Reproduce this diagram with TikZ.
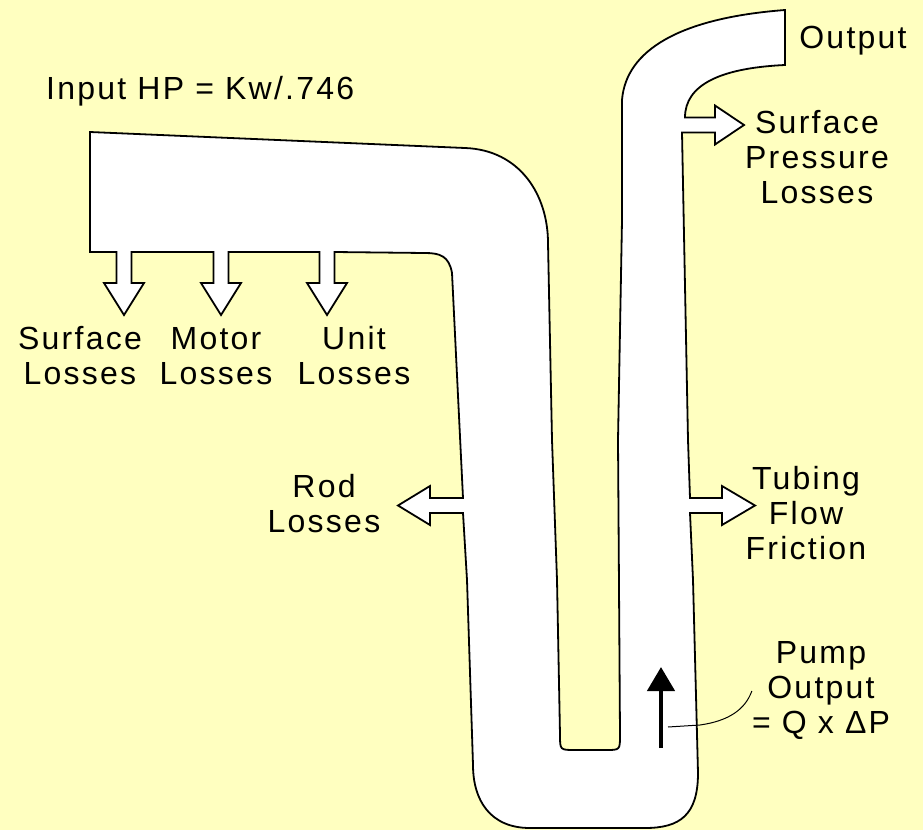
\documentclass[tikz,border=0pt]{standalone}
\usepackage{fontspec}
\setmainfont{Liberation Sans}[LetterSpace=7]
\usetikzlibrary{arrows.meta}
\definecolor{bgyellow}{RGB}{255,255,192}

\begin{document}
\begin{tikzpicture}[x=1pt, y=-1pt,
        pipe/.style={draw=black, fill=white, line width=1.8pt, line join=miter},
        lbl/.style={inner sep=0pt, align=center, font=\fontsize{32}{35}\selectfont}]
        \useasboundingbox (0,0) rectangle (923,830);
        \fill[bgyellow] (0,0) rectangle (923,830);
        \draw[pipe] (90,132) -- (465,148) .. controls (520,150) and (548,195) .. (548,243)
            -- (552,440) -- (557,580) -- (560,735) .. controls (560,750) .. (575,750)
            -- (606,750) .. controls (620,750) .. (620,735)
            -- (618,440) -- (622,220) -- (622,100) .. controls (626,50) and (680,18) .. (785,10)
            -- (785,65) .. controls (720,68) and (685,85) .. (685,117.5)
            -- (715,117.5) -- (715,105.5) -- (744,125) -- (715,144.5) -- (715,132.5) -- (682,132.5)
            -- (688,440) -- (690,498)
            -- ++(32,0) -- ++(0,-12) -- ++(33,19.5) -- ++(-33,19.5) -- ++(0,-12) -- ++(-32,0)
            -- (693,580) -- (698,773) .. controls (698,815) and (680,828) .. (645,828)
            -- (530,828) .. controls (490,828) and (473,800) .. (473,765)
            -- (467,580) -- (463,513)
            -- ++(-33,0) -- ++(0,12) -- ++(-32,-19.5) -- ++(32,-19.5) -- ++(0,12) -- ++(33,0)
            -- (452,273) .. controls (449,256) and (440,253) .. (425,253)
            -- (334.5,252)
            -- ++(0,31) -- ++(12.5,0) -- ++(-20,32) -- ++(-20,-32) -- ++(12.5,0) -- ++(0,-31)
            -- (228.5,252)
            -- ++(0,31) -- ++(12.5,0) -- ++(-20,32) -- ++(-20,-32) -- ++(12.5,0) -- ++(0,-31)
            -- (131.5,252)
            -- ++(0,31) -- ++(12.5,0) -- ++(-20,32) -- ++(-20,-32) -- ++(12.5,0) -- ++(0,-31)
            -- (90,252) -- cycle;

        \node[lbl, anchor=west] (input) at (46,91) {Input HP = Kw/.746};
        \node[lbl] (output) at (853,41) {Output};
        \node[lbl] (surfpress) at (817,157) {Surface\\Pressure\\Losses};
        \node[lbl] (surface) at (80,356) {Surface\\Losses};
        \node[lbl] (motor) at (216,356) {Motor\\Losses};
        \node[lbl] (unit) at (354,356) {Unit\\Losses};
        \node[lbl] (rod) at (324,504) {Rod\\Losses};
        \node[lbl] (tubing) at (806,513) {Tubing\\Flow\\Friction};
        \node[lbl] (pump) at (821,691) {Pump\\Output\\= Q x ΔP};

        \coordinate (flowtail) at (661,748);
        \coordinate (flowtip) at (661,667);
        \draw[line width=4.5pt, -{Triangle[width=27pt,length=24pt]}] (flowtail) -- (flowtip);
        \coordinate (callout) at (668,727);
        \draw[line width=1pt] (callout) -- (700,725) .. controls (728,721) and (745,710) .. (pump.west);
\end{tikzpicture}
\end{document}
